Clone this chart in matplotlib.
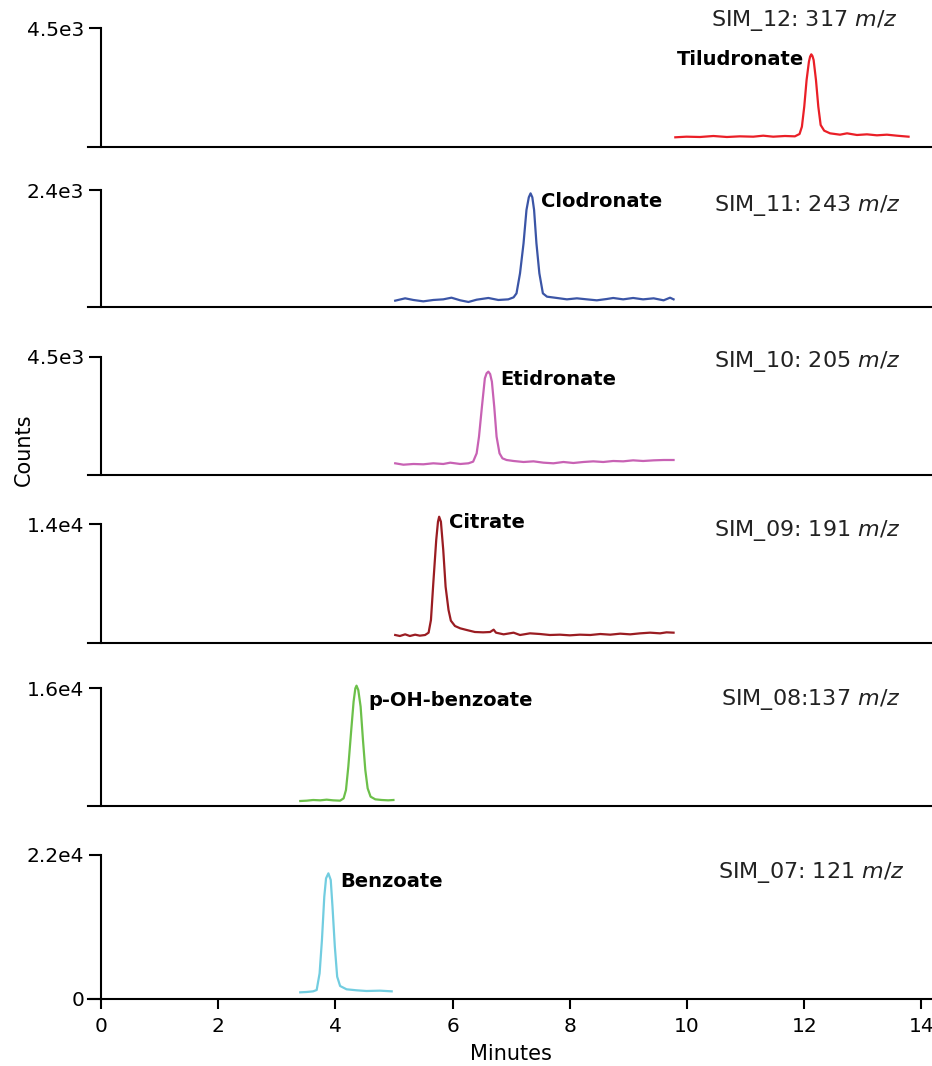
import matplotlib
matplotlib.use("Agg")
import matplotlib.pyplot as plt

plt.rcParams["font.family"] = ["DejaVu Sans"]
plt.rcParams["mathtext.fontset"] = "custom"
plt.rcParams["mathtext.rm"] = "DejaVu Sans"
plt.rcParams["mathtext.it"] = "DejaVu Sans:italic"

# SIM channels, top to bottom
channels = ["SIM_12: 317 $m/z$", "SIM_11: 243 $m/z$", "SIM_10: 205 $m/z$",
            "SIM_09: 191 $m/z$", "SIM_08:137 $m/z$", "SIM_07: 121 $m/z$"]
compounds = ["Tiludronate", "Clodronate", "Etidronate",
             "Citrate", "p-OH-benzoate", "Benzoate"]
y_tops = [4.5e3, 2.4e3, 4.5e3, 1.4e4, 1.6e4, 2.2e4]
y_top_labels = ["4.5e3", "2.4e3", "4.5e3", "1.4e4", "1.6e4", "2.2e4"]
x_ticks = [0, 2, 4, 6, 8, 10, 12, 14]

# traces (minutes, counts)
tilu_t = [9.80, 9.99, 10.22, 10.45, 10.68, 10.90, 11.13, 11.30, 11.47, 11.67,
          11.84, 11.92, 11.96, 12.00, 12.04, 12.08, 12.10, 12.12, 12.14, 12.16,
          12.20, 12.24, 12.28, 12.34, 12.44, 12.61, 12.73, 12.90, 13.07, 13.24,
          13.41, 13.58, 13.78]
tilu_c = [367, 390, 378, 416, 378, 403, 390, 428, 390, 416,
          403, 492, 768, 1525, 2534, 3227, 3420, 3504, 3440, 3290,
          2534, 1525, 832, 618, 517, 466, 517, 454, 479, 442,
          466, 428, 390]

clod_t = [5.02, 5.19, 5.33, 5.50, 5.67, 5.84, 5.98, 6.13, 6.27, 6.41,
          6.61, 6.78, 6.95, 7.04, 7.09, 7.15, 7.21, 7.26, 7.30, 7.33,
          7.36, 7.39, 7.43, 7.48, 7.54, 7.61, 7.78, 7.95, 8.12, 8.29,
          8.46, 8.63, 8.74, 8.91, 9.08, 9.25, 9.43, 9.60, 9.71, 9.77]
clod_c = [130, 178, 144, 116, 144, 157, 191, 137, 103, 150,
          185, 144, 157, 198, 280, 691, 1306, 1990, 2250, 2331,
          2250, 1990, 1306, 691, 280, 212, 185, 157, 178, 157,
          137, 164, 185, 157, 185, 157, 178, 137, 191, 157]

etid_t = [5.02, 5.16, 5.33, 5.50, 5.67, 5.84, 5.96, 6.13, 6.27, 6.35,
          6.41, 6.45, 6.50, 6.55, 6.58, 6.61, 6.64, 6.67, 6.71, 6.75,
          6.80, 6.85, 6.92, 7.04, 7.21, 7.38, 7.55, 7.72, 7.89, 8.06,
          8.23, 8.40, 8.57, 8.74, 8.91, 9.08, 9.25, 9.43, 9.60, 9.77]
etid_c = [446, 393, 420, 408, 446, 420, 470, 420, 446, 509,
          827, 1462, 2605, 3687, 3880, 3941, 3850, 3560, 2605, 1462,
          827, 636, 572, 534, 496, 521, 470, 446, 496, 458,
          496, 521, 496, 534, 521, 559, 534, 559, 572, 572]

citr_t = [5.02, 5.10, 5.19, 5.27, 5.36, 5.44, 5.53, 5.59, 5.63, 5.67,
          5.72, 5.75, 5.77, 5.80, 5.84, 5.88, 5.93, 5.97, 6.04, 6.13,
          6.24, 6.38, 6.52, 6.64, 6.70, 6.74, 6.87, 7.04, 7.15, 7.32,
          7.49, 7.66, 7.83, 8.00, 8.17, 8.35, 8.52, 8.69, 8.86, 9.03,
          9.20, 9.37, 9.54, 9.65, 9.77]
citr_c = [941, 823, 1019, 823, 980, 862, 941, 1215, 2705, 7016,
          12113, 14268, 14856, 14268, 10937, 6625, 3881, 2626, 1999, 1725,
          1529, 1294, 1254, 1294, 1568, 1215, 1019, 1215, 941, 1137,
          1058, 941, 980, 902, 980, 941, 1058, 980, 1098, 1019,
          1137, 1215, 1137, 1254, 1215]

pohb_t = [3.40, 3.51, 3.62, 3.74, 3.85, 3.96, 4.08, 4.14, 4.18, 4.22,
          4.27, 4.31, 4.34, 4.36, 4.39, 4.43, 4.47, 4.51, 4.55, 4.60,
          4.68, 4.79, 4.90, 4.99]
pohb_c = [678, 723, 814, 768, 859, 768, 723, 1040, 2170, 5334,
          10306, 14146, 15955, 16316, 15730, 13468, 8950, 4882, 2395, 1266,
          904, 814, 768, 814]

benz_t = [3.40, 3.51, 3.62, 3.68, 3.73, 3.77, 3.81, 3.84, 3.88, 3.92,
          3.95, 3.99, 4.03, 4.08, 4.19, 4.36, 4.53, 4.76, 4.96]
benz_c = [1019, 1070, 1171, 1375, 3922, 9015, 15632, 18435, 19199, 18183,
          14103, 7991, 3407, 1986, 1482, 1329, 1222, 1273, 1171]

traces = [(tilu_t, tilu_c), (clod_t, clod_c), (etid_t, etid_c),
          (citr_t, citr_c), (pohb_t, pohb_c), (benz_t, benz_c)]

colors = ["#ea1f27", "#3b55a6", "#c862b4", "#9a1c22", "#6cc04a", "#72cde0"]

# axes rectangles in figure pixels: (top, bottom)
W, H = 932, 1066
panel_px = [(28, 147), (190, 307), (357, 475), (524, 643), (688, 806), (855, 999)]
x_left_px, x_right_px = 88, 932
xlim = (-0.222, 14.18)

# compound label anchors (minutes, counts, ha) and channel label anchors
name_pos = [(12.0, 3290, "right"), (7.51, 2174, "left"), (6.81, 3661, "left"),
            (5.94, 14230, "left"), (4.57, 14238, "left"), (4.08, 17878, "left")]
chan_pos = [(13.60, 4765), (13.64, 2072), (13.64, 4310),
            (13.64, 13289), (13.64, 14374), (13.72, 19253)]

fig = plt.figure(figsize=(W / 100, H / 100), dpi=100)

for i in range(6):
    top, bot = panel_px[i]
    ax = fig.add_axes([x_left_px / W, 1 - bot / H,
                       (x_right_px - x_left_px) / W, (bot - top) / H])
    t, c = traces[i]
    ax.plot(t, c, color=colors[i], lw=1.6, clip_on=False,
            solid_joinstyle="round")
    ax.set_xlim(*xlim)
    ax.set_ylim(0, y_tops[i])

    for s in ["top", "right"]:
        ax.spines[s].set_visible(False)
    ax.spines["left"].set_position(("data", 0))
    ax.spines["left"].set_linewidth(1.5)
    ax.spines["bottom"].set_linewidth(1.5)

    if i == 5:
        ax.set_yticks([0, y_tops[i]], ["0", y_top_labels[i]])
        ax.set_xticks(x_ticks)
        ax.tick_params(axis="x", length=7, width=1.5, labelsize=14.5, pad=6)
    else:
        ax.set_yticks([y_tops[i]], [y_top_labels[i]])
        ax.set_xticks([])
    ax.tick_params(axis="y", length=9, width=1.5, labelsize=14.5, pad=3)

    nx, ny, ha = name_pos[i]
    ax.text(nx, ny, compounds[i], ha=ha, va="center", fontsize=14,
            fontweight="bold", color="black")
    cx, cy = chan_pos[i]
    ax.text(cx, cy, channels[i], ha="right", va="center", fontsize=16,
            color="#222222")

fig.text(23.5 / W, 1 - 450 / H, "Counts", rotation=90, ha="center",
         va="center", fontsize=15)
fig.text(511 / W, 1 - 1054 / H, "Minutes", ha="center", va="center",
         fontsize=15)

fig.savefig("out.png", dpi=100)
